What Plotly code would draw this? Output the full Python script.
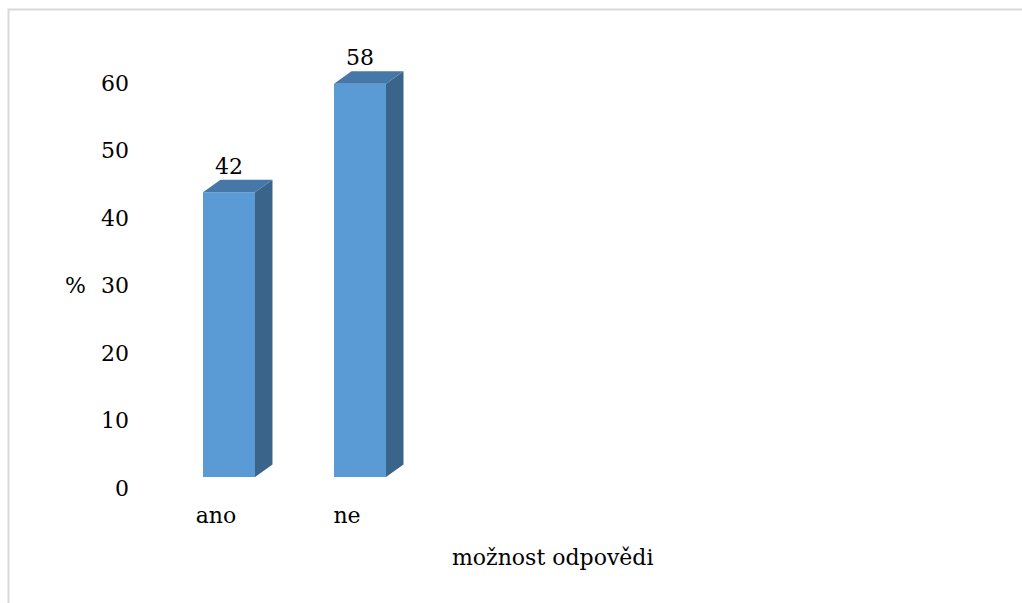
import plotly.graph_objects as go

# ---- data ----
categories = ["ano", "ne"]
values = [42, 58]
y_ticks = [0, 10, 20, 30, 40, 50, 60]
y_title = "%"
x_title = "možnost odpovědi"

# ---- style ----
FONT = "DejaVu Serif"
FS = 22
FRONT = "#5B9BD5"
TOP = "#4677A9"
SIDE = "#3A6489"

W, H = 1022, 603
ML, MR, MT, MB = 130, 22, 40, 103
PW, PH = W - ML - MR, H - MT - MB

# pixel geometry helpers (figure layout only)
px_per_cat = 131.0
x0_px = 229.0  # centre of first bar front face
px_per_unit_front = 6.78
zero_front_px = 477.0
px_per_unit_tick = 6.75
zero_tick_px = 488.0

x_rng = [(ML - x0_px) / px_per_cat, (ML + PW - x0_px) / px_per_cat]
y_rng = [(zero_front_px - (MT + PH)) / px_per_unit_front, (zero_front_px - MT) / px_per_unit_front]
y2_rng = [(zero_tick_px - (MT + PH)) / px_per_unit_tick, (zero_tick_px - MT) / px_per_unit_tick]

bar_w = 52.0 / px_per_cat
dx = 17.5 / px_per_cat
dy = 12.5 / px_per_unit_front
label_shift = -13.0 / px_per_cat

xs = list(range(len(categories)))

fig = go.Figure()

fig.add_trace(go.Bar(x=xs, y=values, width=bar_w, marker=dict(color=FRONT, line=dict(width=0)),
                     hoverinfo="skip", showlegend=False))

for c, v in zip(xs, values):
    l, r = c - bar_w / 2, c + bar_w / 2
    # side face
    fig.add_trace(go.Scatter(x=[r, r + dx, r + dx, r, r], y=[0, dy, v + dy, v, 0],
                             mode="lines", fill="toself", fillcolor=SIDE,
                             line=dict(width=0, color=SIDE), hoverinfo="skip", showlegend=False))
    # top face
    fig.add_trace(go.Scatter(x=[l, r, r + dx, l + dx, l], y=[v, v, v + dy, v + dy, v],
                             mode="lines", fill="toself", fillcolor=TOP,
                             line=dict(width=0, color=TOP), hoverinfo="skip", showlegend=False))
    fig.add_annotation(x=c, y=v + dy, xref="x", yref="y", text=str(v), showarrow=False,
                       xanchor="center", yanchor="bottom", yshift=-1,
                       font=dict(family=FONT, size=FS, color="black"))

# invisible trace to activate tick axis
fig.add_trace(go.Scatter(x=[xs[0]], y=[0], yaxis="y2", mode="markers",
                         marker=dict(opacity=0), hoverinfo="skip", showlegend=False))

fig.update_layout(
    width=W, height=H, autosize=False,
    margin=dict(l=ML, r=MR, t=MT, b=MB, pad=0),
    paper_bgcolor="white", plot_bgcolor="white",
    font=dict(family=FONT, size=FS, color="black"),
    xaxis=dict(range=x_rng, tickmode="array", tickvals=[x + label_shift for x in xs],
               ticktext=categories, showgrid=False, zeroline=False, showline=False,
               ticks="", fixedrange=True, tickfont=dict(family=FONT, size=FS, color="black")),
    yaxis=dict(range=y_rng, visible=False, fixedrange=True),
    yaxis2=dict(range=y2_rng, overlaying="y", side="left", tickmode="array",
                tickvals=y_ticks, showgrid=False, zeroline=False, showline=False,
                ticks="", fixedrange=True, tickfont=dict(family=FONT, size=FS, color="black")),
    hovermode=False,
)

# axis titles
fig.add_annotation(x=(75 - ML) / PW, y=(MT + PH - 285) / PH, xref="paper", yref="paper",
                   text=y_title, showarrow=False, xanchor="center", yanchor="middle",
                   font=dict(family=FONT, size=FS, color="black"))
fig.add_annotation(x=(552 - ML) / PW, y=(MT + PH - 557) / PH, xref="paper", yref="paper",
                   text=x_title, showarrow=False, xanchor="center", yanchor="middle",
                   font=dict(family=FONT, size=FS, color="black"))

# chart border
fig.add_shape(type="rect", xref="paper", yref="paper",
              x0=(8.5 - ML) / PW, x1=(1030 - ML) / PW,
              y0=(MT + PH - 620) / PH, y1=(MT + PH - 9.5) / PH,
              line=dict(color="#D9D9D9", width=2), fillcolor="rgba(0,0,0,0)", layer="below")

fig.write_html("out.html", config={"displayModeBar": False})
